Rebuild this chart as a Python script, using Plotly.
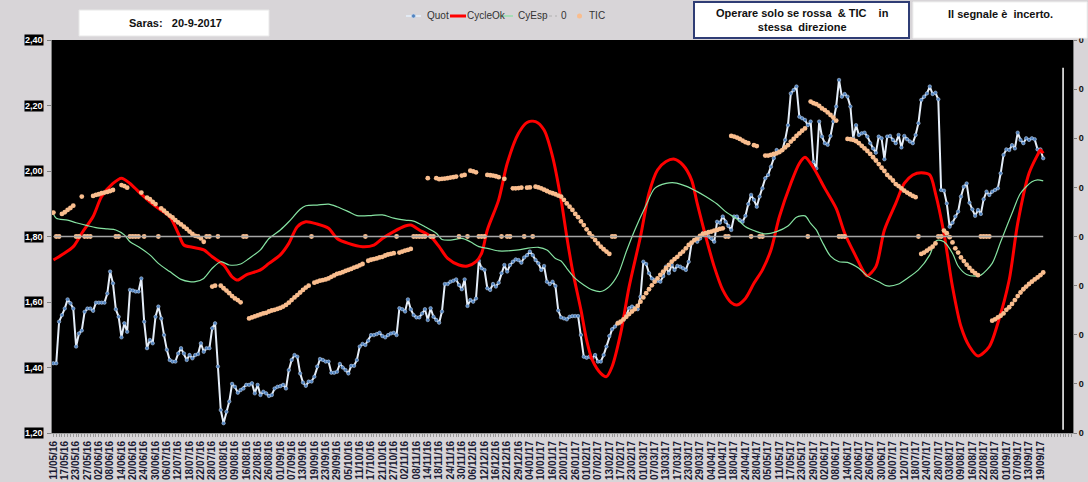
import plotly.graph_objects as go

# ---------------- data ----------------
TITLE = "Saras:   20-9-2017"
NOTE1 = "Operare solo se rossa  &amp; TIC    in<br>stessa  direzione"
NOTE2 = "Il segnale è  incerto."

X_LABELS = ["11/05/16", "17/05/16", "23/05/16", "27/05/16", "02/06/16", "08/06/16", "14/06/16", "20/06/16",
            "24/06/16", "30/06/16", "06/07/16", "12/07/16", "18/07/16", "22/07/16", "28/07/16", "03/08/16",
            "09/08/16", "16/08/16", "22/08/16", "26/08/16", "01/09/16", "07/09/16", "13/09/16", "19/09/16",
            "23/09/16", "29/09/16", "05/10/16", "11/10/16", "17/10/16", "21/10/16", "27/10/16", "02/11/16",
            "08/11/16", "14/11/16", "18/11/16", "24/11/16", "30/11/16", "06/12/16", "12/12/16", "16/12/16",
            "22/12/16", "29/12/16", "04/01/17", "10/01/17", "16/01/17", "20/01/17", "26/01/17", "01/02/17",
            "07/02/17", "13/02/17", "17/02/17", "23/02/17", "01/03/17", "07/03/17", "13/03/17", "17/03/17",
            "23/03/17", "29/03/17", "04/04/17", "10/04/17", "18/04/17", "24/04/17", "28/04/17", "05/05/17",
            "11/05/17", "17/05/17", "23/05/17", "29/05/17", "02/06/17", "08/06/17", "14/06/17", "20/06/17",
            "26/06/17", "30/06/17", "06/07/17", "12/07/17", "18/07/17", "24/07/17", "28/07/17", "03/08/17",
            "09/08/17", "16/08/17", "22/08/17", "28/08/17", "01/09/17", "07/09/17", "13/09/17", "19/09/17"]
LABEL_EVERY = 4

QUOT = [1.413, 1.413, 1.540, 1.560, 1.580, 1.608, 1.596, 1.580, 1.464, 1.504,
        1.513, 1.570, 1.580, 1.580, 1.573, 1.598, 1.598, 1.598, 1.598, 1.626,
        1.693, 1.657, 1.578, 1.555, 1.492, 1.535, 1.509, 1.637, 1.635, 1.632,
        1.632, 1.672, 1.540, 1.459, 1.484, 1.474, 1.555, 1.586, 1.550, 1.499,
        1.454, 1.423, 1.418, 1.418, 1.443, 1.459, 1.443, 1.423, 1.438, 1.428,
        1.438, 1.441, 1.474, 1.448, 1.459, 1.459, 1.520, 1.535, 1.403, 1.270,
        1.230, 1.265, 1.296, 1.350, 1.341, 1.323, 1.331, 1.336, 1.347, 1.347,
        1.352, 1.321, 1.347, 1.316, 1.326, 1.321, 1.313, 1.316, 1.336, 1.341,
        1.343, 1.347, 1.336, 1.392, 1.423, 1.438, 1.433, 1.382, 1.354, 1.344,
        1.357, 1.357, 1.372, 1.403, 1.426, 1.423, 1.418, 1.418, 1.384, 1.384,
        1.387, 1.411, 1.400, 1.392, 1.382, 1.405, 1.405, 1.423, 1.464, 1.472,
        1.469, 1.482, 1.499, 1.499, 1.502, 1.506, 1.496, 1.492, 1.499, 1.504,
        1.506, 1.499, 1.581, 1.578, 1.571, 1.608, 1.578, 1.560, 1.553, 1.553,
        1.565, 1.578, 1.545, 1.581, 1.555, 1.545, 1.537, 1.571, 1.655, 1.655,
        1.662, 1.665, 1.669, 1.652, 1.639, 1.669, 1.588, 1.606, 1.601, 1.611,
        1.726, 1.703, 1.698, 1.642, 1.637, 1.655, 1.647, 1.659, 1.688, 1.713,
        1.693, 1.713, 1.723, 1.730, 1.728, 1.720, 1.736, 1.743, 1.754, 1.743,
        1.728, 1.718, 1.698, 1.710, 1.662, 1.655, 1.662, 1.649, 1.574, 1.553,
        1.550, 1.547, 1.555, 1.557, 1.557, 1.557, 1.499, 1.433, 1.430, 1.433,
        1.428, 1.438, 1.418, 1.418, 1.438, 1.464, 1.496, 1.517, 1.525, 1.537,
        1.535, 1.545, 1.560, 1.581, 1.586, 1.581, 1.578, 1.616, 1.723, 1.716,
        1.688, 1.672, 1.667, 1.665, 1.662, 1.679, 1.708, 1.688, 1.713, 1.698,
        1.710, 1.708, 1.703, 1.698, 1.723, 1.779, 1.789, 1.784, 1.794, 1.810,
        1.808, 1.800, 1.794, 1.784, 1.845, 1.842, 1.861, 1.845, 1.832, 1.820,
        1.861, 1.861, 1.850, 1.845, 1.863, 1.899, 1.927, 1.912, 1.891, 1.922,
        1.947, 1.978, 1.988, 2.013, 2.039, 2.064, 2.059, 2.064, 2.095, 2.140,
        2.237, 2.247, 2.258, 2.166, 2.161, 2.156, 2.140, 2.151, 2.028, 2.008,
        2.151, 2.105, 2.085, 2.080, 2.107, 2.151, 2.197, 2.278, 2.227, 2.235,
        2.227, 2.197, 2.100, 2.140, 2.110, 2.115, 2.117, 2.105, 2.085, 2.069,
        2.056, 2.105, 2.100, 2.036, 2.105, 2.107, 2.095, 2.085, 2.110, 2.072,
        2.107, 2.097, 2.090, 2.085, 2.110, 2.146, 2.217, 2.227, 2.237, 2.258,
        2.235, 2.239, 2.219, 1.942, 1.940, 1.901, 1.830, 1.842, 1.861, 1.876,
        1.922, 1.952, 1.962, 1.903, 1.883, 1.863, 1.881, 1.869, 1.914, 1.937,
        1.927, 1.937, 1.942, 1.947, 1.993, 2.049, 2.066, 2.064, 2.079, 2.069,
        2.117, 2.095, 2.085, 2.100, 2.095, 2.100, 2.097, 2.066, 2.066, 2.039]

CYCLE_X = [0, 3, 7, 10, 14, 17, 21, 24, 27, 30, 34, 37, 41, 44, 46, 49, 53, 56, 60, 63, 65, 68, 73, 76, 80,
           83, 86, 89, 93, 97, 100, 104, 109, 113, 116, 120, 124, 126, 129, 133, 136, 139, 143, 146, 149,
           151, 153, 157, 160, 164, 167, 170, 173, 176, 179, 181, 183, 186, 188, 190, 193, 195, 197, 200,
           203, 207, 210, 213, 216, 219, 222, 225, 227, 230, 233, 236, 239, 241, 244, 247, 250, 253, 256,
           260, 263, 265, 268, 272, 276, 279, 283, 286, 287, 290, 293, 297, 300, 303, 306, 309, 311, 314,
           317, 320, 323, 326, 330, 333, 337, 340, 344, 347, 348, 349]
CYCLE_Y = [1.728, 1.744, 1.769, 1.810, 1.861, 1.922, 1.962, 1.978, 1.962, 1.937, 1.906, 1.886, 1.861, 1.810,
           1.774, 1.767, 1.759, 1.738, 1.713, 1.677, 1.667, 1.683, 1.698, 1.718, 1.744, 1.779, 1.830, 1.845,
           1.838, 1.825, 1.794, 1.779, 1.769, 1.774, 1.794, 1.815, 1.832, 1.835, 1.820, 1.800, 1.769, 1.733,
           1.713, 1.710, 1.723, 1.749, 1.820, 1.912, 2.023, 2.115, 2.148, 2.151, 2.125, 2.044, 1.912, 1.800,
           1.698, 1.576, 1.484, 1.423, 1.382, 1.372, 1.403, 1.504, 1.647, 1.800, 1.932, 2.003, 2.029, 2.036,
           2.018, 1.973, 1.901, 1.800, 1.708, 1.637, 1.598, 1.591, 1.611, 1.657, 1.698, 1.759, 1.861, 1.962,
           2.023, 2.042, 2.010, 1.947, 1.886, 1.810, 1.738, 1.688, 1.680, 1.708, 1.820, 1.901, 1.962, 1.988,
           1.995, 1.988, 1.932, 1.810, 1.647, 1.525, 1.464, 1.435, 1.464, 1.535, 1.667, 1.840, 1.993, 2.049,
           2.064, 2.054]

CYESP_X = [0, 1, 5, 8, 12, 15, 19, 22, 25, 27, 30, 34, 37, 41, 45, 48, 50, 53, 56, 59, 62, 66, 69, 73, 76,
           80, 83, 87, 89, 93, 97, 100, 104, 107, 112, 116, 120, 124, 127, 131, 135, 137, 140, 144, 147, 150,
           153, 157, 160, 164, 167, 171, 174, 177, 179, 181, 184, 187, 190, 193, 196, 199, 202, 205, 209, 212,
           216, 219, 223, 227, 230, 234, 237, 241, 244, 248, 251, 255, 259, 262, 265, 267, 269, 271, 274, 277,
           280, 284, 287, 291, 294, 298, 301, 305, 309, 311, 312, 314, 317, 319, 322, 325, 327, 331, 334, 338,
           341, 345, 347, 349]
CYESP_Y = [1.869, 1.856, 1.850, 1.842, 1.833, 1.827, 1.823, 1.820, 1.805, 1.784, 1.769, 1.744, 1.718, 1.693,
           1.669, 1.662, 1.662, 1.672, 1.703, 1.723, 1.713, 1.716, 1.733, 1.759, 1.794, 1.820, 1.845, 1.883,
           1.894, 1.896, 1.899, 1.891, 1.876, 1.864, 1.864, 1.866, 1.856, 1.850, 1.847, 1.830, 1.810, 1.791,
           1.789, 1.794, 1.784, 1.769, 1.764, 1.756, 1.756, 1.759, 1.764, 1.767, 1.759, 1.733, 1.725, 1.703,
           1.672, 1.652, 1.637, 1.632, 1.647, 1.683, 1.754, 1.820, 1.896, 1.947, 1.962, 1.964, 1.954, 1.937,
           1.922, 1.899, 1.876, 1.853, 1.830, 1.815, 1.808, 1.815, 1.832, 1.859, 1.863, 1.840, 1.820, 1.785,
           1.740, 1.723, 1.721, 1.703, 1.679, 1.662, 1.649, 1.655, 1.672, 1.698, 1.744, 1.785, 1.789, 1.784,
           1.749, 1.710, 1.684, 1.679, 1.682, 1.718, 1.784, 1.871, 1.932, 1.967, 1.973, 1.970]

ZERO_VALUE = 0.0          # "0" series (right axis)
Z = 1.80                  # TIC points sitting on the zero level
TIC = [1.873, Z, Z, 1.869, 1.874, 1.881, 1.887, 1.894, Z, Z,
       1.922, Z, Z, Z, 1.924, 1.927, 1.929, 1.932, 1.934, 1.936,
       1.939, 1.942, Z, Z, 1.957, 1.954, 1.949, Z, Z, Z,
       Z, 1.934, Z, 1.919, 1.914, 1.906, 1.899, Z, 1.886, 1.879,
       1.871, 1.864, 1.858, 1.850, 1.843, 1.837, 1.830, 1.823, 1.815, 1.808,
       1.802, Z, 1.794, 1.784, Z, Z, 1.647, 1.650, Z, 1.650,
       1.642, 1.635, 1.627, 1.618, 1.611, 1.606, 1.599, Z, Z, 1.550,
       1.553, 1.556, 1.559, 1.562, 1.565, 1.567, 1.571, 1.574, 1.576, 1.579,
       1.582, 1.586, 1.591, 1.598, 1.606, 1.614, 1.621, 1.629, 1.637, 1.644,
       1.650, Z, 1.659, 1.662, 1.665, 1.667, 1.669, 1.672, 1.677, 1.681,
       1.686, 1.688, 1.691, 1.695, 1.698, 1.701, 1.705, 1.708, 1.712, 1.716,
       Z, 1.726, 1.729, 1.731, 1.733, 1.736, 1.738, 1.742, 1.745, 1.747,
       1.749, Z, 1.751, 1.754, 1.757, 1.759, 1.762, Z, Z, Z,
       Z, Z, 1.978, Z, Z, 1.978, 1.975, 1.976, 1.977, 1.978,
       1.980, 1.981, 1.983, Z, 1.986, 1.988, Z, 2.001, 1.999, 1.996,
       Z, Z, Z, 1.988, 1.987, 1.986, 1.984, 1.981, Z, 1.976,
       Z, Z, 1.947, 1.947, 1.948, 1.949, Z, 1.949, 1.950, Z,
       1.952, 1.950, 1.947, 1.943, 1.939, 1.935, 1.932, 1.929, 1.925, 1.922,
       1.912, 1.901, 1.891, 1.881, 1.869, 1.859, 1.846, 1.835, 1.822, 1.810,
       1.800, 1.789, 1.779, 1.769, 1.761, 1.754, 1.747, Z, Z, 1.535,
       1.540, 1.547, 1.555, 1.563, 1.571, 1.578, 1.588, 1.601, 1.614, 1.627,
       1.639, 1.651, 1.662, 1.672, 1.683, 1.693, 1.703, 1.713, 1.723, 1.731,
       1.738, 1.747, 1.754, 1.764, 1.774, 1.781, 1.789, 1.794, 1.802, 1.808,
       1.810, 1.813, 1.815, 1.818, 1.820, 1.823, 1.825, Z, Z, 2.107,
       2.105, 2.102, 2.098, 2.093, 2.088, 2.085, Z, 2.079, 2.076, Z,
       Z, 2.047, 2.047, 2.049, 2.052, 2.054, 2.058, 2.064, 2.072, 2.079,
       2.090, 2.098, 2.107, 2.115, 2.123, 2.130, Z, 2.212, 2.207, 2.204,
       2.199, 2.191, 2.186, 2.179, 2.171, 2.163, 2.154, Z, Z, Z,
       2.098, 2.097, 2.095, 2.091, 2.085, 2.077, 2.069, 2.061, 2.052, 2.042,
       2.032, 2.021, 2.010, 2.000, 1.988, 1.980, 1.971, 1.960, 1.954, 1.947,
       1.940, 1.934, 1.929, 1.924, 1.920, Z, 1.747, 1.751, 1.757, 1.763,
       1.769, 1.779, Z, Z, 1.818, 1.810, 1.798, 1.782, 1.764, 1.751,
       1.736, 1.725, 1.714, 1.704, 1.695, 1.688, 1.682, Z, Z, Z,
       Z, 1.543, 1.547, 1.553, 1.558, 1.565, 1.576, 1.584, 1.594, 1.606,
       1.618, 1.629, 1.639, 1.647, 1.655, 1.662, 1.669, 1.675, 1.682, 1.690]

Y_TICKS = [1.20, 1.40, 1.60, 1.80, 2.00, 2.20, 2.40]
Y2_TICKS = [-4, -3, -2, -1, 0, 1, 2, 3, 4]
N_SLOTS = 360          # category slots on the axis (data + empty tail)
MARKER_LINE_AT = 356   # white vertical marker line position

# ---------------- figure ----------------
FONT = "Arial, Liberation Sans, sans-serif"
n = len(QUOT)
xs = list(range(n))

fig = go.Figure()
fig.add_trace(go.Scatter(x=xs, y=QUOT, mode="lines+markers", name="Quot",
                         line=dict(color="#e4edf8", width=2),
                         marker=dict(size=3.5, color="#4f81bd", line=dict(color="#c6d9f1", width=0.5))))
fig.add_trace(go.Scatter(x=CYCLE_X, y=CYCLE_Y, mode="lines", name="CycleOk",
                         line=dict(color="#ff0000", width=3, shape="spline", smoothing=0.8)))
fig.add_trace(go.Scatter(x=CYESP_X, y=CYESP_Y, mode="lines", name="CyEsp",
                         line=dict(color="#86e3a2", width=1.2, shape="spline", smoothing=0.8)))
fig.add_trace(go.Scatter(x=[0, n - 1], y=[ZERO_VALUE, ZERO_VALUE], mode="lines", name="0",
                         line=dict(color="#a6a6a6", width=1.5), yaxis="y2"))
fig.add_trace(go.Scatter(x=xs, y=TIC, mode="markers", name="TIC",
                         marker=dict(size=4.8, color="#f9bd8e")))

W, H = 1088, 482
ML, MR, MT, MB = 52, 15, 40, 49
PW, PH = W - ML - MR, H - MT - MB


def px(p):
    return (p - ML) / PW


def py(p):
    return (H - MB - p) / PH


shapes = []
annotations = []

# y tick labels (white on black boxes)
for v in Y_TICKS:
    annotations.append(dict(text=f"{v:.2f}".replace(".", ","), x=0, xref="paper", y=v, yref="y",
                            xanchor="right", yanchor="middle", xshift=-8, showarrow=False,
                            bgcolor="black", borderpad=0,
                            font=dict(family=FONT, size=9, color="white", weight="bold")))

# title box
shapes.append(dict(type="rect", xref="paper", yref="paper", x0=px(79), x1=px(269), y0=py(36), y1=py(10),
                   fillcolor="white", line=dict(color="#e8e8e8", width=1), layer="above"))
annotations.append(dict(text=TITLE, xref="paper", yref="paper", x=px(175), y=py(23), showarrow=False,
                        xanchor="center", yanchor="middle",
                        font=dict(family=FONT, size=11, color="#111111", weight="bold")))
# note boxes
shapes.append(dict(type="rect", xref="paper", yref="paper", x0=px(694), x1=px(909), y0=py(38), y1=py(2),
                   fillcolor="white", line=dict(color="#2f3d75", width=2), layer="above"))
annotations.append(dict(text=NOTE1, xref="paper", yref="paper", x=px(802), y=py(19.5), showarrow=False,
                        xanchor="center", yanchor="middle",
                        font=dict(family=FONT, size=11, color="#111111", weight="bold")))
shapes.append(dict(type="rect", xref="paper", yref="paper", x0=px(913), x1=px(1087), y0=py(38), y1=py(2),
                   fillcolor="white", line=dict(color="#f0f0f0", width=1), layer="above"))
annotations.append(dict(text=NOTE2, xref="paper", yref="paper", x=px(1000), y=py(14), showarrow=False,
                        xanchor="center", yanchor="middle",
                        font=dict(family=FONT, size=11, color="#111111", weight="bold")))

# manual legend
LY = py(16)
leg_font = dict(family=FONT, size=10, color="#333333")
shapes.append(dict(type="line", xref="paper", yref="paper", x0=px(406), x1=px(421), y0=LY, y1=LY,
                   line=dict(color="#e4edf8", width=1.8)))
shapes.append(dict(type="circle", xref="paper", yref="paper", x0=px(411.5), x1=px(415.5), y0=py(18), y1=py(14),
                   fillcolor="#4f81bd", line=dict(color="#c6d9f1", width=0.6)))
annotations.append(dict(text="Quot", xref="paper", yref="paper", x=px(425), y=LY, xanchor="left",
                        yanchor="middle", showarrow=False, font=leg_font))
shapes.append(dict(type="line", xref="paper", yref="paper", x0=px(450), x1=px(466), y0=LY, y1=LY,
                   line=dict(color="#ff0000", width=3)))
annotations.append(dict(text="CycleOk", xref="paper", yref="paper", x=px(465), y=LY, xanchor="left",
                        yanchor="middle", showarrow=False, font=leg_font))
shapes.append(dict(type="line", xref="paper", yref="paper", x0=px(498), x1=px(513), y0=LY, y1=LY,
                   line=dict(color="#86e3a2", width=1.2)))
annotations.append(dict(text="CyEsp", xref="paper", yref="paper", x=px(516), y=LY, xanchor="left",
                        yanchor="middle", showarrow=False, font=leg_font))
shapes.append(dict(type="line", xref="paper", yref="paper", x0=px(543), x1=px(557), y0=LY, y1=LY,
                   line=dict(color="#b0b0b0", width=1, dash="dot")))
annotations.append(dict(text="0", xref="paper", yref="paper", x=px(559), y=LY, xanchor="left",
                        yanchor="middle", showarrow=False, font=leg_font))
shapes.append(dict(type="circle", xref="paper", yref="paper", x0=px(577), x1=px(582), y0=py(18.5), y1=py(13.5),
                   fillcolor="#f9bd8e", line=dict(width=0)))
annotations.append(dict(text="TIC", xref="paper", yref="paper", x=px(587), y=LY, xanchor="left",
                        yanchor="middle", showarrow=False, font=leg_font))

# white vertical marker line inside the plot
shapes.append(dict(type="line", xref="x", yref="y", x0=MARKER_LINE_AT, x1=MARKER_LINE_AT, y0=1.21, y1=2.315,
                   line=dict(color="white", width=1.5)))

fig.update_layout(
    width=W, height=H,
    margin=dict(l=ML, r=MR, t=MT, b=MB, autoexpand=False),
    paper_bgcolor="#d8d5d8",
    plot_bgcolor="black",
    showlegend=False,
    shapes=shapes,
    annotations=annotations,
    xaxis=dict(range=[-0.5, N_SLOTS - 0.5], tickmode="array", automargin=False,
               tickvals=[i * LABEL_EVERY for i in range(len(X_LABELS))], ticktext=X_LABELS,
               tickangle=-90, tickfont=dict(family=FONT, size=10, color="#1a1a33", weight="bold"),
               ticks="outside", ticklen=3, tickcolor="#9a9a9a",
               minor=dict(tickmode="linear", tick0=0, dtick=1, ticks="outside", ticklen=3, tickcolor="#9a9a9a"),
               showline=True, linecolor="#9a9a9a", linewidth=1, showgrid=False, zeroline=False),
    yaxis=dict(range=[1.20, 2.40], tickmode="array", tickvals=Y_TICKS, showticklabels=False,
               automargin=False, ticks="outside", ticklen=4, tickcolor="#808080",
               showline=True, linecolor="#808080", linewidth=1, showgrid=False, zeroline=False),
    yaxis2=dict(range=[-4, 4], overlaying="y", side="right", tickmode="array", tickvals=Y2_TICKS,
                ticktext=["0"] * len(Y2_TICKS), automargin=False,
                tickfont=dict(family=FONT, size=9, color="#111111", weight="bold"),
                ticks="outside", ticklen=3, tickcolor="#808080",
                showline=True, linecolor="#808080", linewidth=1, showgrid=False, zeroline=False),
)

fig.write_html("out.html")
